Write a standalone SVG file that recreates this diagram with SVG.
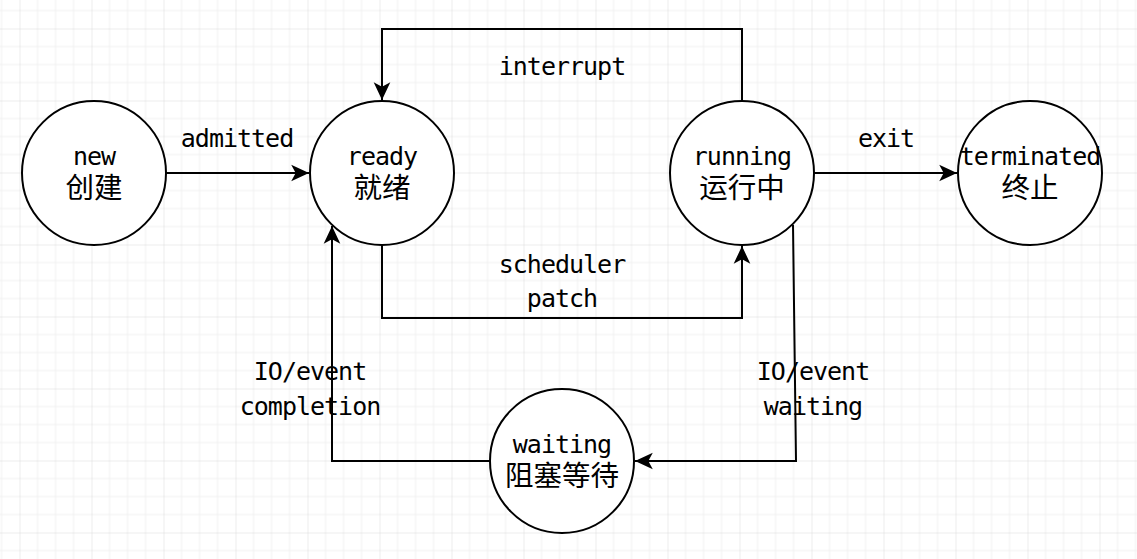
<svg xmlns="http://www.w3.org/2000/svg" width="1137" height="559" viewBox="0 0 1137 559">
<defs>
<pattern id="grid" x="19.5" y="28.5" width="72" height="72" patternUnits="userSpaceOnUse">
<path d="M18 0V72M36 0V72M54 0V72M0 18H72M0 36H72M0 54H72" stroke="#f0f0f0" stroke-width="1" fill="none"/>
<path d="M0 0V72M0 0H72" stroke="#dadada" stroke-width="1" fill="none"/>
</pattern>
<marker id="arr" markerUnits="userSpaceOnUse" markerWidth="20" markerHeight="20" viewBox="-17 -9 18 18" refX="0" refY="0" orient="auto">
<path d="M-16 -7.5L0 0L-16 7.5L-12 0Z" fill="#000"/>
</marker>
</defs>
<style>
.node circle{fill:#fff;stroke:#000;stroke-width:2}
text{font-family:"DejaVu Sans Mono","Noto Sans CJK SC",monospace;font-size:25px;letter-spacing:-1px;fill:#000;text-anchor:middle}
.cjk{font-family:"Noto Sans CJK SC",sans-serif;font-size:28.5px;letter-spacing:0}
.edge{fill:none;stroke:#000;stroke-width:2}
</style>
<rect width="1137" height="559" fill="#fff"/>
<rect width="1137" height="559" fill="url(#grid)"/>
<g id="connectors">
<path class="edge" d="M166 173H309" marker-end="url(#arr)"/>
<path class="edge" d="M742 101V29H382V100" marker-end="url(#arr)"/>
<path class="edge" d="M382 245V318H742V246" marker-end="url(#arr)"/>
<path class="edge" d="M814 173H957" marker-end="url(#arr)"/>
<path class="edge" d="M793 225L796 461H635" marker-end="url(#arr)"/>
<path class="edge" d="M490 461H332V226" marker-end="url(#arr)"/>
<text x="237" y="147">admitted</text>
<text x="562" y="75">interrupt</text>
<text x="562" y="273">scheduler</text>
<text x="562" y="307">patch</text>
<text x="886" y="147">exit</text>
<text x="310" y="380">IO/event</text>
<text x="310" y="415">completion</text>
<text x="813" y="380">IO/event</text>
<text x="813" y="415">waiting</text>
</g>
<g id="new" class="node"><circle cx="94" cy="173" r="72"/><text x="94" y="165">new</text><text class="cjk" x="94" y="198">创建</text></g>
<g id="ready" class="node"><circle cx="382" cy="173" r="72"/><text x="382" y="165">ready</text><text class="cjk" x="382" y="198">就绪</text></g>
<g id="running" class="node"><circle cx="742" cy="173" r="72"/><text x="742" y="165">running</text><text class="cjk" x="742" y="198">运行中</text></g>
<g id="terminated" class="node"><circle cx="1030" cy="173" r="72"/><text x="1030" y="165">terminated</text><text class="cjk" x="1030" y="198">终止</text></g>
<g id="waiting" class="node"><circle cx="562" cy="461" r="72"/><text x="562" y="453">waiting</text><text class="cjk" x="562" y="486">阻塞等待</text></g>
</svg>
